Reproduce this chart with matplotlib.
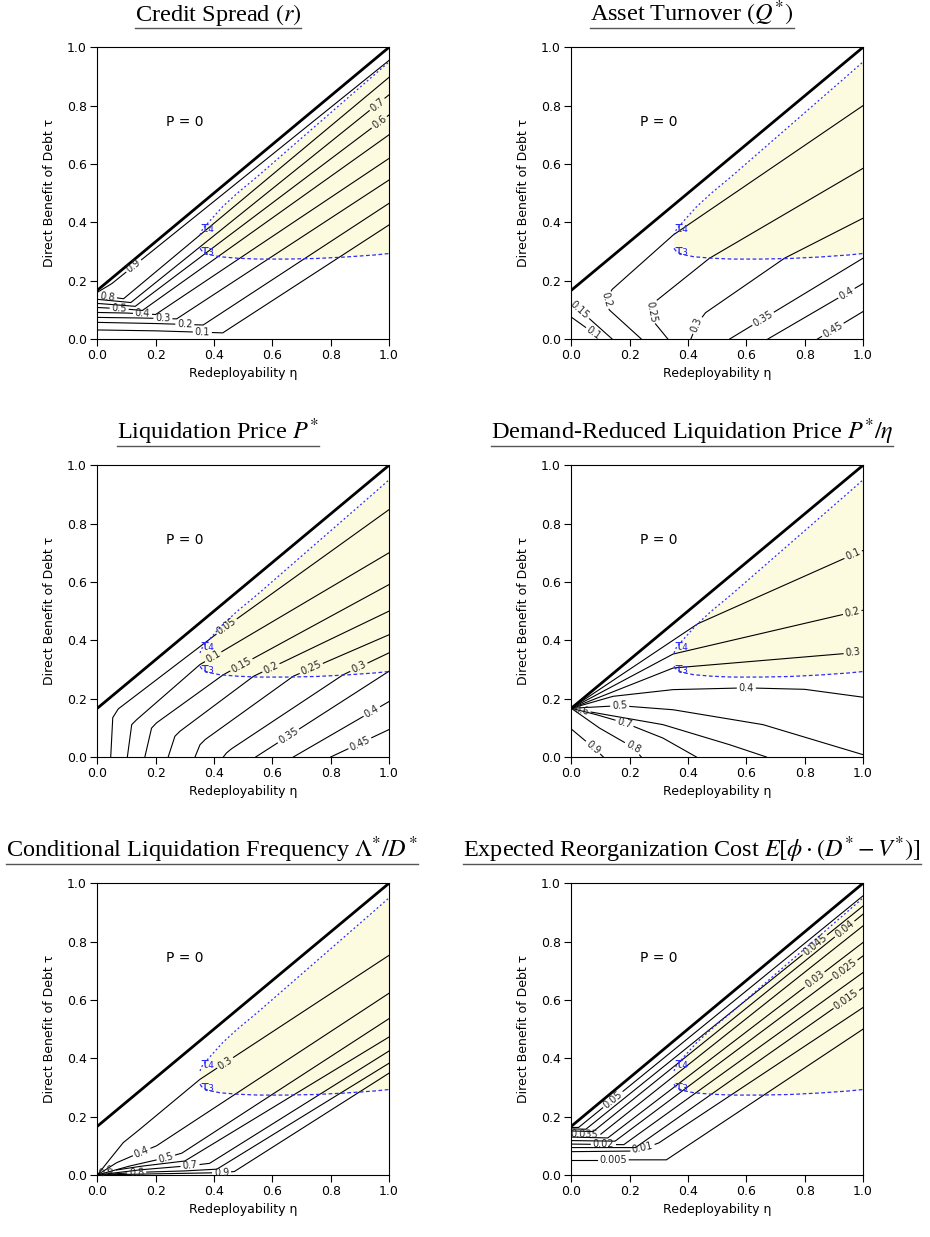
import numpy as np
import matplotlib
matplotlib.use("Agg")
import matplotlib.pyplot as plt
from matplotlib.lines import Line2D

plt.rcParams['font.family'] = ['DejaVu Sans']
plt.rcParams['mathtext.fontset'] = 'stix'

# ---- shared boundaries (same in every panel) ----
edge_x = [0.0, 1.0]
edge_y = [0.167, 1.0]

tau4_x = [0.352, 0.36, 0.383, 0.43, 0.48, 0.55, 0.65, 0.75, 0.85, 0.95, 1.0]
tau4_y = [0.357, 0.375, 0.402, 0.454, 0.50, 0.558, 0.645, 0.732, 0.819, 0.906, 0.95]
tau3_x = [0.352, 0.36, 0.38, 0.42, 0.48, 0.55, 0.65, 0.75, 0.85, 0.95, 1.0]
tau3_y = [0.311, 0.300, 0.290, 0.282, 0.277, 0.274, 0.274, 0.276, 0.281, 0.288, 0.293]

# ---- panel 1: credit spread ----
spread_levels = ['0.1', '0.2', '0.3', '0.4', '0.5', '0.6', '0.7', '0.8', '0.9']
spread_paths = [
    [(0, 0.031), (0.2, 0.028), (0.43, 0.021), (1, 0.391)],
    [(0, 0.057), (0.2, 0.053), (0.363, 0.048), (1, 0.465)],
    [(0, 0.074), (0.15, 0.072), (0.272, 0.069), (1, 0.545)],
    [(0, 0.091), (0.1, 0.089), (0.2, 0.084), (1, 0.619)],
    [(0, 0.108), (0.08, 0.104), (0.155, 0.098), (1, 0.70)],
    [(0, 0.122), (0.13, 0.112), (1, 0.768)],
    [(0, 0.136), (0.115, 0.125), (1, 0.837)],
    [(0, 0.150), (0.09, 0.138), (1, 0.897)],
    [(0, 0.160), (0.05, 0.19), (1, 0.955)],
]
spread_label_at = [(0.36, 0.023), (0.30, 0.05), (0.225, 0.07), (0.155, 0.087),
                   (0.075, 0.104), (0.965, 0.745), (0.958, 0.806), (0.035, 0.146),
                   (0.129, 0.245)]

# ---- panel 2: asset turnover ----
turnover_levels = ['0.1', '0.15', '0.2', '0.25', '0.3', '0.35', '0.4', '0.45']
turnover_paths = [
    [(0, 0.075), (0.105, 0.0)],
    [(0, 0.125), (0.14, 0.0)],
    [(0.24, 0), (0.13, 0.1), (0.12, 0.135), (0.14, 0.17), (0.35, 0.357), (1, 0.80)],
    [(0.331, 0), (0.282, 0.06), (0.275, 0.095), (0.29, 0.13), (0.474, 0.277), (1, 0.585)],
    [(0.41, 0), (0.43, 0.05), (0.46, 0.09), (0.731, 0.277), (1, 0.414)],
    [(0.543, 0), (1, 0.277)],
    [(0.674, 0), (1, 0.19)],
    [(0.844, 0), (1, 0.094)],
]
turnover_label_at = [(0.077, 0.02), (0.03, 0.1), (0.12, 0.135), (0.276, 0.094),
                     (0.429, 0.048), (0.657, 0.07), (0.943, 0.157), (0.897, 0.031)]

# ---- panel 3: liquidation price ----
price_levels = ['0.05', '0.1', '0.15', '0.2', '0.25', '0.3', '0.35', '0.4', '0.45']
price_paths = [
    [(0.046, 0), (0.053, 0.135), (0.072, 0.165), (0.443, 0.448), (1, 0.848)],
    [(0.103, 0), (0.118, 0.111), (0.135, 0.128), (0.352, 0.317), (1, 0.70)],
    [(0.163, 0), (0.186, 0.099), (0.203, 0.117), (0.432, 0.282), (1, 0.591)],
    [(0.243, 0), (0.266, 0.071), (0.283, 0.088), (0.536, 0.277), (1, 0.50)],
    [(0.335, 0), (0.352, 0.042), (0.37, 0.06), (0.672, 0.277), (1, 0.419)],
    [(0.432, 0), (0.443, 0.014), (0.46, 0.028), (0.843, 0.282), (1, 0.357)],
    [(0.543, 0), (1, 0.294)],
    [(0.672, 0), (1, 0.19)],
    [(0.80, 0), (1, 0.094)],
]
price_label_at = [(0.443, 0.448), (0.403, 0.334), (0.50, 0.305), (0.598, 0.30),
                  (0.735, 0.30), (0.895, 0.311), (0.66, 0.065), (0.944, 0.151),
                  (0.9, 0.047)]

# ---- panel 4: demand-reduced liquidation price ----
ratio_levels = ['0.1', '0.2', '0.3', '0.4', '0.5', '0.6', '0.7', '0.8', '0.9']
ratio_paths = [
    [(0, 0.167), (0.434, 0.457), (0.966, 0.694), (1, 0.708)],
    [(0, 0.167), (0.349, 0.353), (0.963, 0.496), (1, 0.503)],
    [(0, 0.167), (0.349, 0.305), (0.966, 0.357), (1, 0.36)],
    [(0, 0.167), (0.143, 0.208), (0.349, 0.231), (0.6, 0.237), (0.8, 0.232), (1, 0.205)],
    [(0, 0.167), (0.166, 0.176), (0.349, 0.162), (0.657, 0.111), (1, 0.008)],
    [(0, 0.167), (0.034, 0.16), (0.314, 0.111), (0.543, 0.042), (0.669, 0)],
    [(0, 0.167), (0.086, 0.145), (0.183, 0.117), (0.314, 0.065), (0.429, 0)],
    [(0, 0.167), (0.097, 0.099), (0.212, 0.033), (0.24, 0)],
    [(0, 0.096), (0.075, 0.033), (0.11, 0)],
]
ratio_label_at = [(0.966, 0.694), (0.963, 0.496), (0.966, 0.357), (0.6, 0.237),
                  (0.166, 0.176), (0.034, 0.16), (0.183, 0.117), (0.212, 0.033),
                  (0.075, 0.033)]

# ---- panel 5: conditional liquidation frequency ----
freq_levels = ['0.3', '0.4', '0.5', '0.6', '0.7', '0.8', '0.9']
freq_paths = [
    [(0, 0), (0.043, 0.054), (0.089, 0.111), (0.146, 0.157), (0.352, 0.328), (1, 0.753)],
    [(0, 0), (0.066, 0.042), (0.152, 0.079), (0.203, 0.10), (1, 0.623)],
    [(0, 0), (0.112, 0.031), (0.235, 0.059), (0.29, 0.075), (1, 0.536)],
    [(0, 0), (0.032, 0.012), (0.15, 0.03), (0.30, 0.048), (1, 0.473)],
    [(0, 0), (0.15, 0.018), (0.318, 0.032), (0.385, 0.04), (1, 0.425)],
    [(0, 0), (0.135, 0.009), (0.30, 0.014), (0.41, 0.02), (1, 0.383)],
    [(0, 0), (0.2, 0.004), (0.426, 0.008), (0.47, 0.012), (1, 0.349)],
]
freq_label_at = [(0.438, 0.385), (0.152, 0.079), (0.235, 0.06), (0.032, 0.012),
                 (0.318, 0.032), (0.135, 0.01), (0.426, 0.008)]

# ---- panel 6: expected reorganization cost ----
cost_levels = ['0.005', '0.01', '0.015', '0.02', '0.025', '0.03', '0.035', '0.04', '0.045', '0.05']
cost_paths = [
    [(0, 0.052), (0.326, 0.052), (1, 0.50)],
    [(0, 0.08), (0.2, 0.082), (0.26, 0.095), (0.30, 0.11), (1, 0.574)],
    [(0, 0.094), (0.22, 0.094), (1, 0.642)],
    [(0, 0.106), (0.18, 0.104), (1, 0.694)],
    [(0, 0.118), (0.15, 0.116), (1, 0.751)],
    [(0, 0.13), (0.125, 0.127), (1, 0.797)],
    [(0, 0.142), (0.1, 0.139), (1, 0.854)],
    [(0, 0.151), (0.075, 0.149), (1, 0.894)],
    [(0, 0.158), (0.05, 0.157), (1, 0.922)],
    [(0, 0.163), (0.025, 0.163), (1, 0.957)],
]
cost_label_at = [(0.143, 0.052), (0.245, 0.09), (0.943, 0.602), (0.11, 0.105),
                 (0.937, 0.706), (0.834, 0.67), (0.046, 0.141), (0.937, 0.843),
                 (0.834, 0.79), (0.143, 0.258)]

titles = [r'Credit Spread $(r)$', r'Asset Turnover $(Q^{*})$',
          r'Liquidation Price $P^{*}$', r'Demand-Reduced Liquidation Price $P^{*}/\eta$',
          r'Conditional Liquidation Frequency $\Lambda^{*}/D^{*}$',
          r'Expected Reorganization Cost $E[\phi\cdot(D^{*}-V^{*})]$']
title_cx = [218, 692, 218, 692, 212, 692]

panels = [
    (spread_levels, spread_paths, spread_label_at),
    (turnover_levels, turnover_paths, turnover_label_at),
    (price_levels, price_paths, price_label_at),
    (ratio_levels, ratio_paths, ratio_label_at),
    (freq_levels, freq_paths, freq_label_at),
    (cost_levels, cost_paths, cost_label_at),
]

W, H = 930, 1237
AX = 291.7
BLUE = '#2b2bff'
LABEL_FS = 7


def text_width(s, fs=LABEL_FS):
    # rough DejaVu width in data units (axes are AX px wide)
    em = fs * 100 / 72
    w = sum(0.318 * em if c == '.' else 0.636 * em for c in s)
    return w / AX


def point_at(p, cum, s):
    s = min(max(s, 0), cum[-1])
    j = min(np.searchsorted(cum, s, side='right') - 1, len(p) - 2)
    seg = cum[j + 1] - cum[j]
    t = 0 if seg == 0 else (s - cum[j]) / seg
    return p[j] + t * (p[j + 1] - p[j])


def labelled_line(ax, pts, text, at):
    p = np.asarray(pts, float)
    seg = np.diff(p, axis=0)
    seglen = np.hypot(seg[:, 0], seg[:, 1])
    cum = np.concatenate([[0], np.cumsum(seglen)])
    a = np.asarray(at, float)
    best = None
    for i in range(len(seg)):
        t = np.clip(np.dot(a - p[i], seg[i]) / seglen[i] ** 2, 0, 1)
        q = p[i] + t * seg[i]
        d = np.hypot(*(a - q))
        if best is None or d < best[0]:
            best = (d, i, t, q)
    _, i, t, q = best
    s0 = cum[i] + t * seglen[i]
    half = text_width(text) / 2 + 0.008
    before = [p[k] for k in range(len(p)) if cum[k] < s0 - half]
    if before:
        before.append(point_at(p, cum, s0 - half))
        b = np.array(before)
        ax.plot(b[:, 0], b[:, 1], color='black', lw=0.8)
    after = [p[k] for k in range(len(p)) if cum[k] > s0 + half]
    if after:
        after.insert(0, point_at(p, cum, s0 + half))
        b = np.array(after)
        ax.plot(b[:, 0], b[:, 1], color='black', lw=0.8)
    ang = np.degrees(np.arctan2(seg[i, 1], seg[i, 0]))
    if ang > 90:
        ang -= 180
    elif ang < -90:
        ang += 180
    ax.text(q[0], q[1], text, rotation=ang, rotation_mode='anchor',
            ha='center', va='center', fontsize=LABEL_FS, color='#222222')


fig = plt.figure(figsize=(W / 100, H / 100), dpi=100)
col_left = [97.3, 571.3]
row_top = [47.3, 465.3, 883.3]

title_artists = []
for k, (levels, paths, label_at) in enumerate(panels):
    r, c = divmod(k, 2)
    ax = fig.add_axes([col_left[c] / W, 1 - (row_top[r] + AX) / H, AX / W, AX / H])

    poly_x = list(tau3_x) + list(tau4_x[::-1])
    poly_y = list(tau3_y) + list(tau4_y[::-1])
    ax.fill(poly_x, poly_y, color='#fcfbdf', lw=0, zorder=0)

    for lev, path, at in zip(levels, paths, label_at):
        labelled_line(ax, path, lev, at)

    ax.plot(edge_x, edge_y, color='black', lw=2)
    ax.plot(tau4_x, tau4_y, color=BLUE, lw=0.9, dashes=(1.5, 2))
    ax.plot(tau3_x, tau3_y, color=BLUE, lw=0.9, dashes=(3, 2))
    ax.text(0.378, 0.38, 'τ₄', color=BLUE, fontsize=10, ha='center', va='center')
    ax.text(0.378, 0.302, 'τ₃', color=BLUE, fontsize=10, ha='center', va='center')
    ax.text(0.30, 0.745, 'P = 0', fontsize=10, ha='center', va='center')

    ax.set_xlim(0, 1)
    ax.set_ylim(0, 1)
    ticks = [0, 0.2, 0.4, 0.6, 0.8, 1.0]
    ax.set_xticks(ticks)
    ax.set_yticks(ticks)
    ax.tick_params(direction='out', length=5, width=0.8, pad=2.5, labelsize=9,
                   top=False, right=False)
    for sp in ax.spines.values():
        sp.set_linewidth(0.8)
    ax.set_xlabel('Redeployability η', fontsize=9, labelpad=3)
    ax.set_ylabel('Direct Benefit of Debt τ', fontsize=9, labelpad=8)

    base = 1 - (row_top[r] - 26) / H
    t = fig.text(title_cx[k] / W, base, titles[k], ha='center', va='baseline',
                 fontsize=17.5, family='Liberation Serif')
    title_artists.append((t, row_top[r] - 19))

fig.canvas.draw()
renderer = fig.canvas.get_renderer()
for t, uy in title_artists:
    bb = t.get_window_extent(renderer)
    fig.add_artist(Line2D([bb.x0 / W, bb.x1 / W], [1 - uy / H, 1 - uy / H],
                          transform=fig.transFigure, color='#555555', lw=1))

fig.savefig('out.png', dpi=100)
